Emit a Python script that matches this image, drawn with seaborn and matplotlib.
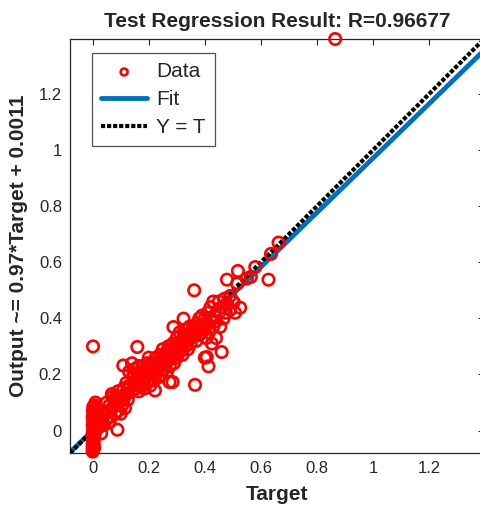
import numpy as np
import pandas as pd
import matplotlib
matplotlib.use("Agg")
import matplotlib.pyplot as plt
import seaborn as sns

# ---- data ----
target = [
    0.000, 0.000, 0.000, 0.000, 0.000, 0.002, 0.002, 0.003, 0.004, 0.005,
    0.000, 0.001, 0.002, 0.003, 0.005, 0.006, 0.008, 0.004, 0.002, 0.001,
    0.000, 0.003, 0.006, 0.007, 0.002, 0.004, 0.008, 0.010, 0.001, 0.005,
    0.000, 0.003, 0.006, 0.002, 0.009, 0.012, 0.004, 0.001, 0.007, 0.002,
    0.020, 0.025, 0.030, 0.030, 0.035, 0.040, 0.045, 0.050, 0.050, 0.055,
    0.060, 0.060, 0.065, 0.068, 0.070, 0.075, 0.080, 0.080, 0.085, 0.088,
    0.090, 0.095, 0.100, 0.100, 0.105, 0.110, 0.110, 0.115, 0.120, 0.120,
    0.125, 0.109, 0.140, 0.159, 0.130, 0.135, 0.140, 0.145, 0.150, 0.150,
    0.155, 0.160, 0.160, 0.165, 0.170, 0.170, 0.175, 0.180, 0.180, 0.185,
    0.190, 0.190, 0.195, 0.200, 0.200, 0.200, 0.205, 0.210, 0.210, 0.215,
    0.220, 0.222, 0.225, 0.230, 0.230, 0.235, 0.240, 0.240, 0.245, 0.250,
    0.250, 0.255, 0.260, 0.260, 0.265, 0.270, 0.270, 0.275, 0.274, 0.280,
    0.280, 0.285, 0.285, 0.288, 0.290, 0.290, 0.295, 0.300, 0.300, 0.305,
    0.310, 0.310, 0.315, 0.320, 0.320, 0.324, 0.325, 0.330, 0.330, 0.335,
    0.340, 0.340, 0.345, 0.350, 0.350, 0.355, 0.362, 0.360, 0.365, 0.365,
    0.370, 0.370, 0.375, 0.380, 0.380, 0.385, 0.390, 0.390, 0.395, 0.400,
    0.400, 0.400, 0.405, 0.407, 0.410, 0.410, 0.413, 0.415, 0.420, 0.420,
    0.425, 0.430, 0.430, 0.435, 0.440, 0.440, 0.450, 0.450, 0.455, 0.460,
    0.460, 0.467, 0.470, 0.475, 0.479, 0.480, 0.490, 0.490, 0.500, 0.503,
    0.508, 0.515, 0.518, 0.526, 0.550, 0.564, 0.580, 0.627, 0.636, 0.663,
    0.865, 0.130, 0.175, 0.215, 0.235, 0.255, 0.265, 0.300, 0.330, 0.355,
    0.070, 0.090, 0.115, 0.145, 0.165, 0.195, 0.205, 0.225, 0.245, 0.275,
]
output = [
    -0.075, -0.068, -0.060, -0.052, -0.045, -0.040, -0.034, -0.028, -0.022, -0.016,
    -0.010, -0.005, 0.000, 0.006, 0.012, 0.018, 0.024, 0.030, 0.036, 0.042,
    0.048, 0.054, 0.060, 0.066, 0.072, 0.080, 0.090, 0.100, 0.300, -0.062,
    0.020, -0.030, 0.045, 0.010, 0.035, 0.060, -0.050, 0.070, -0.015, 0.085,
    0.010, 0.040, -0.010, 0.030, 0.050, 0.020, 0.060, 0.100, 0.040, 0.070,
    0.030, 0.090, 0.050, 0.130, 0.080, 0.110, 0.060, 0.100, 0.120, 0.003,
    0.070, 0.100, 0.060, 0.120, 0.090, 0.150, 0.110, 0.080, 0.130, 0.170,
    0.110, 0.232, 0.240, 0.298, 0.210, 0.160, 0.140, 0.190, 0.170, 0.220,
    0.150, 0.200, 0.180, 0.140, 0.210, 0.160, 0.190, 0.230, 0.170, 0.150,
    0.210, 0.190, 0.240, 0.180, 0.220, 0.260, 0.160, 0.200, 0.240, 0.220,
    0.180, 0.143, 0.260, 0.210, 0.240, 0.190, 0.270, 0.230, 0.200, 0.250,
    0.290, 0.220, 0.240, 0.270, 0.210, 0.300, 0.250, 0.230, 0.173, 0.280,
    0.260, 0.173, 0.310, 0.369, 0.270, 0.240, 0.290, 0.330, 0.260, 0.310,
    0.280, 0.350, 0.300, 0.320, 0.270, 0.399, 0.340, 0.300, 0.360, 0.320,
    0.340, 0.290, 0.370, 0.330, 0.310, 0.350, 0.500, 0.370, 0.163, 0.340,
    0.320, 0.380, 0.360, 0.340, 0.400, 0.370, 0.350, 0.410, 0.380, 0.360,
    0.260, 0.400, 0.330, 0.262, 0.420, 0.380, 0.229, 0.350, 0.400, 0.440,
    0.310, 0.370, 0.460, 0.410, 0.390, 0.330, 0.420, 0.460, 0.370, 0.280,
    0.440, 0.400, 0.470, 0.420, 0.538, 0.450, 0.430, 0.480, 0.460, 0.458,
    0.420, 0.524, 0.569, 0.438, 0.542, 0.548, 0.583, 0.538, 0.630, 0.670,
    1.396, 0.160, 0.200, 0.240, 0.220, 0.260, 0.280, 0.300, 0.340, 0.360,
    0.120, 0.140, 0.130, 0.200, 0.230, 0.170, 0.230, 0.200, 0.260, 0.290,
]
fit_slope = 0.97
fit_intercept = 0.0011
axis_limits = [-0.08, 1.396]
tick_values = [0, 0.2, 0.4, 0.6, 0.8, 1.0, 1.2]
tick_labels = ["0", "0.2", "0.4", "0.6", "0.8", "1", "1.2"]
r_value = 0.96677

df = pd.DataFrame({"Target": target, "Output": output})
line_x = np.array(axis_limits)
fit_df = pd.DataFrame({"x": line_x, "y": fit_slope * line_x + fit_intercept})
yt_df = pd.DataFrame({"x": line_x, "y": line_x})

sns.set_style("white")
plt.rcParams["font.family"] = ["Liberation Sans", "DejaVu Sans"]

W, H = 481, 507
fig = plt.figure(figsize=(W / 100, H / 100), dpi=100)
left_px, right_px, top_px, bottom_px = 70.3, 484.0, 39.0, 453.0
ax = fig.add_axes([left_px / W, 1 - bottom_px / H,
                   (right_px - left_px) / W, (bottom_px - top_px) / H])

red = "#FF0000"
blue = "#0072BD"

sns.lineplot(data=fit_df, x="x", y="y", ax=ax, color=blue, lw=3.5,
             label="Fit", zorder=2)
sns.lineplot(data=yt_df, x="x", y="y", ax=ax, color="black", lw=3.0,
             linestyle=(0, (1.0, 0.45)), label="Y = T", zorder=3)
sns.scatterplot(data=df, x="Target", y="Output", ax=ax, marker="o",
                facecolors="none", edgecolor=red, linewidth=1.9, s=68,
                label="Data", zorder=4, clip_on=False)

ax.set_xlim(axis_limits)
ax.set_ylim(axis_limits)
ax.set_xticks(tick_values)
ax.set_yticks(tick_values)
ax.set_xticklabels(tick_labels)
ax.set_yticklabels(tick_labels)
ax.tick_params(direction="in", length=4, width=0.8, top=True, right=True,
               labelsize=12, labelcolor="#262626", colors="#262626", pad=6)
for s in ax.spines.values():
    s.set_color("#262626")
    s.set_linewidth(0.9)

ax.set_title(f"Test Regression Result: R={r_value}", fontsize=15,
             fontweight="bold", pad=9)
ax.set_xlabel("Target", fontsize=15, fontweight="bold", color="#262626",
              labelpad=6)
ax.set_ylabel(f"Output ~= {fit_slope}*Target + {fit_intercept}", fontsize=15,
              fontweight="bold", color="#262626", labelpad=8)

handles, labels = ax.get_legend_handles_labels()
order = [labels.index("Data"), labels.index("Fit"), labels.index("Y = T")]
leg = ax.legend([handles[i] for i in order], [labels[i] for i in order],
                loc="upper left", bbox_to_anchor=(0.052, 0.966),
                borderaxespad=0, fontsize=15, frameon=True, fancybox=False,
                edgecolor="#262626", handlelength=2.2, handletextpad=0.45,
                labelspacing=0.42, borderpad=0.45, markerscale=0.6)
leg.get_frame().set_linewidth(0.9)

fig.savefig("out.png", dpi=100)
